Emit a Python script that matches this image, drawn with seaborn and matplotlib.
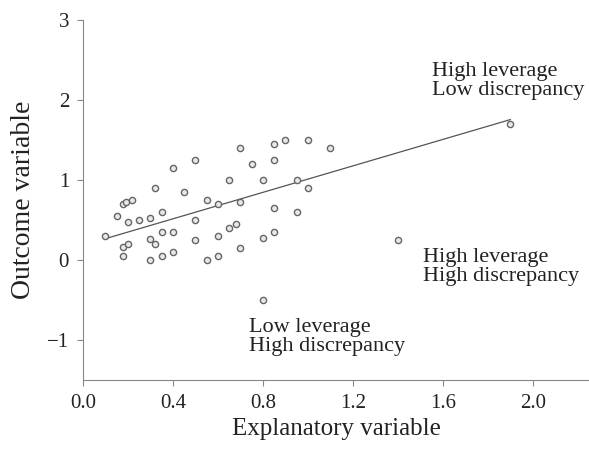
import pandas as pd
import seaborn as sns
import matplotlib.pyplot as plt

# explanatory / outcome values
x_vals = [0.10, 0.15, 0.18, 0.19, 0.22, 0.20, 0.25, 0.30, 0.35, 0.32,
          0.40, 0.45, 0.50, 0.50, 0.55, 0.60, 0.65, 0.70, 0.70, 0.75,
          0.80, 0.85, 0.85, 0.90, 1.00, 0.95, 1.00, 1.10, 0.85, 0.95,
          0.85, 0.80, 0.70, 0.65, 0.68, 0.60, 0.60, 0.55, 0.50, 0.40,
          0.40, 0.35, 0.35, 0.30, 0.30, 0.32, 0.18, 0.20, 0.18,
          0.80, 1.40, 1.90]
y_vals = [0.30, 0.55, 0.70, 0.73, 0.75, 0.48, 0.50, 0.53, 0.60, 0.90,
          1.15, 0.85, 1.25, 0.50, 0.75, 0.70, 1.00, 1.40, 0.73, 1.20,
          1.00, 1.45, 1.25, 1.50, 1.50, 1.00, 0.90, 1.40, 0.65, 0.60,
          0.35, 0.28, 0.15, 0.40, 0.45, 0.30, 0.05, 0.00, 0.25, 0.35,
          0.10, 0.35, 0.05, 0.00, 0.26, 0.20, 0.16, 0.20, 0.05,
          -0.50, 0.25, 1.70]
# the two high-discrepancy points are left out of the fitted line
in_fit = [True] * 49 + [False, False, True]

labels = ["High leverage\nLow discrepancy",
          "High leverage\nHigh discrepancy",
          "Low leverage\nHigh discrepancy"]
label_x = [1.55, 1.51, 0.74]
label_y = [2.47, 0.15, -0.72]

df = pd.DataFrame({"x": x_vals, "y": y_vals, "in_fit": in_fit})

sns.set_style("ticks")
plt.rcParams["font.family"] = ["Liberation Serif", "DejaVu Serif"]

fig = plt.figure(figsize=(5.89, 4.5), dpi=100)
ax = fig.add_axes([83 / 589, 70 / 450, 1 - 83 / 589, 360 / 450])

sns.scatterplot(data=df, x="x", y="y", ax=ax, s=20, color="#e8e8e8",
                edgecolor="#666666", linewidth=1, zorder=3)
sns.regplot(data=df[df["in_fit"]], x="x", y="y", ax=ax, ci=None, truncate=True,
            scatter=False, line_kws=dict(color="#555555", lw=0.9))

for txt, tx, ty in zip(labels, label_x, label_y):
    ax.text(tx, ty, txt, fontsize=16, va="top", ha="left", linespacing=1.0, color="#222222")

ax.set_xlim(0, 2.249)
ax.set_ylim(-1.5, 3)
ax.set_xticks([0.0, 0.4, 0.8, 1.2, 1.6, 2.0])
ax.set_xticklabels(["0.0", "0.4", "0.8", "1.2", "1.6", "2.0"])
ax.set_yticks([-1, 0, 1, 2, 3])
ax.set_xlabel("Explanatory variable", fontsize=18, color="#222222", labelpad=4)
ax.set_ylabel("Outcome variable", fontsize=20, color="#222222", labelpad=8)
ax.tick_params(labelsize=15, length=4, color="#888888", labelcolor="#222222", pad=6)
for side in ["left", "bottom"]:
    ax.spines[side].set_color("#888888")
sns.despine(ax=ax)

fig.savefig("out.png", dpi=100)
